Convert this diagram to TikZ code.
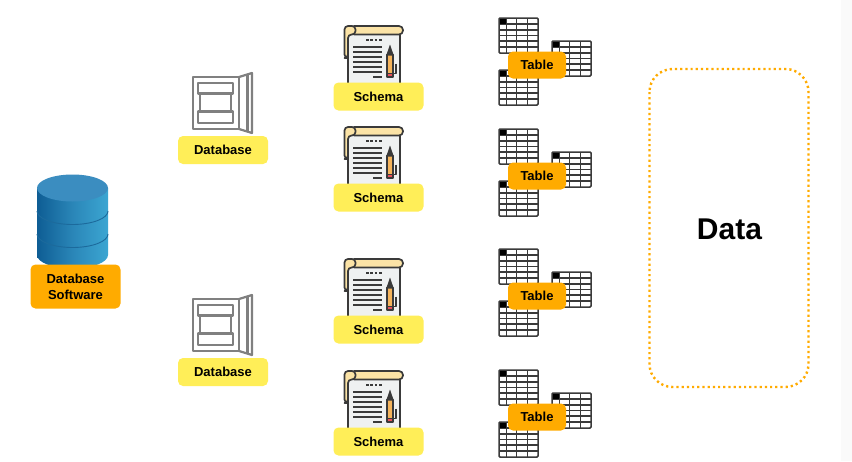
\documentclass[tikz,border=0pt]{standalone}
\usepackage{fontspec}
\setmainfont{Liberation Sans}
\usepackage{xcolor}
\usetikzlibrary{positioning}
\definecolor{labelyellow}{HTML}{FFEE58}
\definecolor{labelorange}{HTML}{FFAB00}
\definecolor{scrollcream}{HTML}{FBE3A6}
\definecolor{pagegray}{HTML}{EFF1F1}
\definecolor{iconline}{HTML}{3A3A3A}
\definecolor{doorgray}{HTML}{808080}
\definecolor{penciltan}{HTML}{F5B45C}
\definecolor{eraserred}{HTML}{E8505B}
\definecolor{cyldark}{HTML}{0E5D94}
\definecolor{cylmid}{HTML}{2A86B8}
\definecolor{cyllight}{HTML}{3CA6D2}
\definecolor{cyltop}{HTML}{3B8DC0}
\definecolor{cylring}{HTML}{1C6A9C}
\tikzstyle{yellowlabel} = [fill=labelyellow, rounded corners=5pt, minimum width=90pt, minimum height=28pt, inner sep=0pt, font=\fontsize{13}{15}\selectfont\bfseries]
\tikzstyle{tablelabel} = [fill=labelorange, rounded corners=5pt, minimum width=58pt, minimum height=27pt, inner sep=0pt, font=\fontsize{13}{15}\selectfont\bfseries]
\tikzstyle{softwarelabel} = [fill=labelorange, rounded corners=5pt, minimum width=90pt, minimum height=44pt, inner sep=0pt, align=center, font=\fontsize{13}{16}\selectfont\bfseries]
\tikzstyle{dbline} = [doorgray, line width=2.2pt, line join=round]
\tikzstyle{iconstroke} = [iconline, line width=1.7pt, line join=round]
\tikzstyle{gridstroke} = [iconline, line width=1.5pt]
\tikzset{
  % Hoja con pergamino y lapiz
  schemaicon/.pic={
    \draw[iconstroke, fill=pagegray] (-30.5,-62) rectangle (21.5,-13);
    \draw[iconstroke, fill=scrollcream, rounded corners=4pt] (-28,-70.5) rectangle (24.5,-62);
    \draw[iconstroke, fill=scrollcream, rounded corners=3.5pt] (-30.5,-38.5) -- (-34,-38.5) -- (-34,-70.5) -- (-23,-70.5) -- (-23,-62) -- (-30.5,-62) -- cycle;
    \draw[iconline, line width=2.6pt, dash pattern=on 2.6pt off 1.8pt] (-12.5,-56.5) -- (3.2,-56.5);
    \draw[iconstroke] (-25.5,-49.5) -- (3.5,-49.5) (-25.5,-44.5) -- (3.5,-44.5) (-25.5,-39.5) -- (3.5,-39.5)
      (-25.5,-34.5) -- (3.5,-34.5) (-25.5,-29.5) -- (3.5,-29.5) (-25.5,-24.5) -- (3.5,-24.5) (-5.5,-19.5) -- (3.5,-19.5);
    \draw[iconstroke] (17.5,-33) -- (17.5,-23) -- (15,-23);
    \draw[iconstroke, fill=penciltan] (8.5,-42) rectangle (14.5,-23);
    \draw[iconstroke, fill=eraserred] (8.5,-23) rectangle (14.5,-19.5);
    \fill[iconline] (7.7,-41) -- (11.5,-52) -- (15.3,-41) -- cycle;
  },
  % Tres tablas pequenas
  smalltable/.pic={
    \fill[white] (0,0) rectangle (39,35);
    \draw[gridstroke] (7.3,0) -- (7.3,35) (17.5,0) -- (17.5,35) (28.5,0) -- (28.5,35);
    \draw[gridstroke] (0,6) -- (39,6) (0,12) -- (39,12) (0,17.5) -- (39,17.5) (0,23) -- (39,23) (0,29) -- (39,29);
    \fill[black] (0,0) rectangle (7.3,6);
    \draw[gridstroke, rounded corners=1pt] (0,0) rectangle (39,35);
  },
  tableicon/.pic={
    \pic at (-38,-47) {smalltable};
    \pic at (15,-24) {smalltable};
    \pic at (-38,5) {smalltable};
  },
  % Armario con puerta abierta
  dbicon/.pic={
    \draw[dbline] (-30,-73) rectangle (16,-21);
    \draw[dbline] (16,-73) -- (29,-77) -- (29,-17) -- (16,-21);
    \draw[dbline] (24.5,-76) -- (24.5,-18);
    \draw[dbline] (-25,-67) -- (10,-67) -- (10,-56.5) -- (8,-56.5) -- (8,-38.5) -- (10,-38.5) -- (10,-27)
      -- (-25,-27) -- (-25,-38.5) -- (-23,-38.5) -- (-23,-56.5) -- (-25,-56.5) -- cycle;
    \draw[dbline] (-23,-56.5) -- (8,-56.5) (-23,-38.5) -- (8,-38.5);
  }
}

\begin{document}
\begin{tikzpicture}[x=1pt, y=-1pt]
        \useasboundingbox (0,0) rectangle (852,461);
        \fill[white] (0,0) rectangle (852,461);
        \fill[black!2] (841,0) rectangle (852,461);

        % Cilindro
        \shade[left color=cyldark, right color=cyllight, middle color=cylmid]
            (37,188) -- (37,255) arc[start angle=180, end angle=0, x radius=35.5, y radius=13.5] -- (108,188) -- cycle;
        \draw[cylring, line width=0.9pt] (37,211) arc[start angle=180, end angle=0, x radius=35.5, y radius=13.5];
        \draw[cylring, line width=0.9pt] (37,234) arc[start angle=180, end angle=0, x radius=35.5, y radius=13.5];
        \fill[cyltop] (72.5,188) ellipse[x radius=35.5, y radius=13.5];
        \node[softwarelabel] (software) at (75.5,286.5) {Database\\Software};

        % Bases de datos
        \pic at (223,150) {dbicon};
        \node[yellowlabel] (dbone) at (223,150) {Database};
        \pic at (223,372) {dbicon};
        \node[yellowlabel] (dbtwo) at (223,372) {Database};

        % Esquemas
        \pic at (378.5,96.5) {schemaicon};
        \node[yellowlabel] (schemaone) at (378.5,96.5) {Schema};
        \pic at (378.5,197.5) {schemaicon};
        \node[yellowlabel] (schematwo) at (378.5,197.5) {Schema};
        \pic at (378.5,329.5) {schemaicon};
        \node[yellowlabel] (schemathree) at (378.5,329.5) {Schema};
        \pic at (378.5,441.5) {schemaicon};
        \node[yellowlabel] (schemafour) at (378.5,441.5) {Schema};

        % Tablas
        \pic at (537,65) {tableicon};
        \node[tablelabel] (tableone) at (537,65) {Table};
        \pic at (537,176) {tableicon};
        \node[tablelabel] (tabletwo) at (537,176) {Table};
        \pic at (537,296) {tableicon};
        \node[tablelabel] (tablethree) at (537,296) {Table};
        \pic at (537,417) {tableicon};
        \node[tablelabel] (tablefour) at (537,417) {Table};

        % Datos
        \draw[labelorange, line width=2.4pt, dash pattern=on 2.2pt off 3pt, rounded corners=23pt] (649.5,69) rectangle (808.5,387);
        \node[font=\fontsize{30}{32}\selectfont\bfseries] (data) at (729.5,229) {Data};

    \end{tikzpicture}
\end{document}
